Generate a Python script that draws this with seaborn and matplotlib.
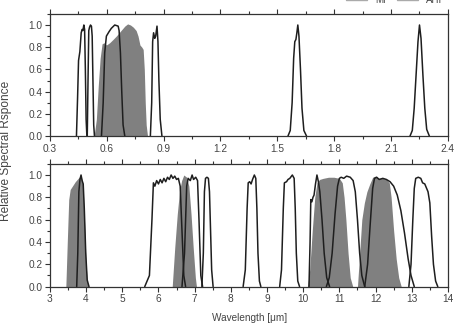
import numpy as np
import seaborn as sns
import matplotlib.pyplot as plt
from matplotlib.lines import Line2D
from matplotlib.ticker import MultipleLocator

# --- top panel (VIS/NIR), black line bands ---
t1_x = [0.440, 0.446, 0.451, 0.458, 0.465, 0.470, 0.474, 0.479, 0.483, 0.487, 0.491, 0.495]
t1_y = [0.0, 0.35, 0.68, 0.76, 0.93, 0.96, 0.95, 1.0, 0.96, 0.6, 0.15, 0.0]
t2_x = [0.497, 0.501, 0.505, 0.509, 0.514, 0.519, 0.523, 0.527, 0.531, 0.535]
t2_y = [0.0, 0.5, 0.95, 0.98, 1.0, 0.99, 0.9, 0.5, 0.1, 0.0]
t3_x = [0.572, 0.581, 0.589, 0.598, 0.612, 0.624, 0.642, 0.660, 0.665, 0.672, 0.679, 0.686, 0.695]
t3_y = [0.0, 0.3, 0.75, 0.9, 0.94, 0.97, 1.0, 0.99, 0.95, 0.75, 0.4, 0.1, 0.0]
t4_x = [0.830, 0.837, 0.842, 0.847, 0.853, 0.858, 0.865, 0.870, 0.875, 0.882, 0.891]
t4_y = [0.0, 0.3, 0.85, 0.93, 0.88, 0.9, 0.99, 0.85, 0.5, 0.15, 0.0]
t5_x = [1.556, 1.568, 1.578, 1.586, 1.592, 1.598, 1.603, 1.608, 1.614, 1.622, 1.630, 1.640, 1.654]
t5_y = [0.0, 0.05, 0.3, 0.7, 0.85, 0.87, 0.93, 1.0, 0.9, 0.6, 0.25, 0.05, 0.0]
t6_x = [2.200, 2.212, 2.222, 2.232, 2.242, 2.250, 2.258, 2.268, 2.278, 2.288, 2.302]
t6_y = [0.0, 0.05, 0.25, 0.55, 0.85, 1.0, 0.88, 0.55, 0.25, 0.06, 0.0]

# --- top panel, gray filled band ---
tg_x = [0.533, 0.545, 0.555, 0.565, 0.575, 0.585, 0.598, 0.615, 0.633, 0.650, 0.665, 0.680,
        0.695, 0.710, 0.725, 0.740, 0.755, 0.765, 0.775, 0.785, 0.792, 0.798, 0.803, 0.808, 0.815]
tg_y = [0.0, 0.15, 0.45, 0.7, 0.83, 0.84, 0.82, 0.84, 0.87, 0.9, 0.93, 0.96,
        0.99, 1.01, 1.0, 0.98, 0.95, 0.9, 0.82, 0.8, 0.78, 0.6, 0.3, 0.1, 0.0]

# --- bottom panel (IR), black line bands ---
b1_x = [3.74, 3.77, 3.80, 3.83, 3.86, 3.89, 3.92, 3.95, 3.99, 4.03, 4.08]
b1_y = [0.0, 0.3, 0.85, 0.96, 1.0, 0.95, 0.92, 0.7, 0.3, 0.06, 0.0]
b2_x = [5.62, 5.75, 5.82, 5.86, 5.90, 5.95, 6.00, 6.05, 6.10, 6.15, 6.20, 6.25, 6.30,
        6.35, 6.40, 6.45, 6.50, 6.55, 6.60, 6.65, 6.70, 6.75]
b2_y = [0.0, 0.1, 0.6, 0.93, 0.9, 0.95, 0.92, 0.96, 0.93, 0.97, 0.94, 0.98, 0.96,
        1.0, 0.97, 0.99, 0.96, 0.97, 0.9, 0.5, 0.1, 0.0]
b3_x = [6.65, 6.72, 6.78, 6.82, 6.88, 6.93, 6.97, 7.03, 7.08, 7.12, 7.17, 7.22]
b3_y = [0.0, 0.3, 0.9, 0.97, 0.95, 1.0, 0.96, 0.98, 0.95, 0.6, 0.1, 0.0]
b4_x = [7.20, 7.24, 7.27, 7.30, 7.34, 7.38, 7.41, 7.44, 7.47, 7.51]
b4_y = [0.0, 0.3, 0.85, 0.97, 0.98, 0.97, 0.85, 0.5, 0.15, 0.0]
b5_x = [8.34, 8.40, 8.45, 8.48, 8.52, 8.56, 8.60, 8.65, 8.69, 8.72, 8.75, 8.79, 8.83]
b5_y = [0.0, 0.15, 0.7, 0.93, 0.94, 0.92, 0.96, 1.0, 0.97, 0.7, 0.3, 0.05, 0.0]
b6_x = [9.35, 9.40, 9.45, 9.48, 9.54, 9.58, 9.63, 9.70, 9.75, 9.78, 9.81, 9.85, 9.90]
b6_y = [0.0, 0.15, 0.7, 0.93, 0.94, 0.96, 0.97, 1.0, 0.97, 0.7, 0.3, 0.05, 0.0]
b7_x = [10.16, 10.19, 10.21, 10.24, 10.27, 10.30, 10.34, 10.38, 10.42, 10.46, 10.52, 10.58, 10.65, 10.73]
b7_y = [0.0, 0.4, 0.78, 0.76, 0.8, 0.82, 0.92, 1.0, 0.94, 0.85, 0.6, 0.3, 0.08, 0.0]
b8_x = [10.64, 10.72, 10.80, 10.88, 10.95, 11.00, 11.05, 11.12, 11.20, 11.30, 11.38, 11.44,
        11.50, 11.56, 11.62, 11.70]
b8_y = [0.0, 0.08, 0.3, 0.65, 0.9, 0.97, 0.98, 0.97, 0.99, 0.98, 0.95, 0.85,
        0.6, 0.3, 0.1, 0.0]
b9_x = [11.70, 11.78, 11.85, 11.92, 11.97, 12.03, 12.10, 12.20, 12.30, 12.40, 12.50, 12.60,
        12.70, 12.80, 12.90, 12.98, 13.07]
b9_y = [0.0, 0.2, 0.55, 0.88, 0.97, 0.98, 0.96, 0.97, 0.96, 0.94, 0.9, 0.82,
        0.68, 0.48, 0.25, 0.1, 0.0]
b10_x = [12.92, 12.98, 13.03, 13.07, 13.11, 13.18, 13.25, 13.30, 13.36, 13.45, 13.50, 13.55,
         13.60, 13.66, 13.72]
b10_y = [0.0, 0.2, 0.6, 0.88, 0.97, 0.98, 0.97, 0.93, 0.92, 0.85, 0.75, 0.45,
         0.2, 0.05, 0.0]

# --- bottom panel, gray filled bands ---
g1_x = [3.44, 3.48, 3.52, 3.56, 3.62, 3.70, 3.78, 3.84, 3.88, 3.92, 3.96, 4.00, 4.04, 4.08]
g1_y = [0.0, 0.4, 0.78, 0.87, 0.9, 0.94, 0.97, 0.99, 0.97, 0.88, 0.55, 0.2, 0.03, 0.0]
g2_x = [6.38, 6.45, 6.52, 6.58, 6.64, 6.70, 6.78, 6.84, 6.90, 6.96, 7.02, 7.05]
g2_y = [0.0, 0.35, 0.65, 0.85, 0.95, 1.0, 0.98, 0.9, 0.65, 0.35, 0.08, 0.0]
g3_x = [10.12, 10.18, 10.25, 10.32, 10.38, 10.45, 10.55, 10.70, 10.85, 11.00, 11.08, 11.13,
        11.18, 11.24, 11.30, 11.37]
g3_y = [0.0, 0.15, 0.5, 0.8, 0.93, 0.96, 0.97, 0.98, 0.98, 0.97, 0.93, 0.8,
        0.6, 0.3, 0.08, 0.0]
g4_x = [11.50, 11.56, 11.62, 11.69, 11.76, 11.84, 11.92, 12.00, 12.10, 12.20, 12.30, 12.38,
        12.43, 12.50, 12.57, 12.64, 12.71]
g4_y = [0.0, 0.3, 0.6, 0.75, 0.85, 0.92, 0.98, 0.99, 0.97, 0.97, 0.96, 0.93,
        0.8, 0.5, 0.25, 0.08, 0.0]

legend_labels = ["MI", "AHI"]

top_lines = [(t1_x, t1_y), (t2_x, t2_y), (t3_x, t3_y), (t4_x, t4_y), (t5_x, t5_y), (t6_x, t6_y)]
top_fills = [(tg_x, tg_y)]
bot_lines = [(b1_x, b1_y), (b2_x, b2_y), (b3_x, b3_y), (b4_x, b4_y), (b5_x, b5_y),
             (b6_x, b6_y), (b7_x, b7_y), (b8_x, b8_y), (b9_x, b9_y), (b10_x, b10_y)]
bot_fills = [(g1_x, g1_y), (g2_x, g2_y), (g3_x, g3_y), (g4_x, g4_y)]

sns.set_style("ticks")
plt.rcParams['font.family'] = ['Liberation Sans', 'DejaVu Sans']

LINE_C = "#1e1e1e"
FILL_C = "#808080"
TXT_C = "#444444"

fig = plt.figure(figsize=(4.58, 3.31), dpi=100)
ax_top = fig.add_axes([0.109, 0.589, 0.869, 0.369])
ax_bot = fig.add_axes([0.109, 0.134, 0.869, 0.371])


def draw_panel(ax, fills, lines, xlim, major, minor):
    for fx, fy in fills:
        ax.fill_between(fx, fy, 0, color=FILL_C, lw=0, zorder=1)
    for lx, ly in lines:
        sns.lineplot(x=lx, y=ly, ax=ax, sort=False, estimator=None,
                     color=LINE_C, lw=1.1, zorder=2)
    ax.set_xlim(*xlim)
    ax.set_ylim(0, 1.1)
    ax.xaxis.set_major_locator(MultipleLocator(major))
    ax.xaxis.set_minor_locator(MultipleLocator(minor))
    ax.yaxis.set_major_locator(MultipleLocator(0.2))
    ax.yaxis.set_minor_locator(MultipleLocator(0.1))
    ax.tick_params(axis='both', which='both', direction='out', colors="#333333",
                   labelcolor=TXT_C, labelsize=7.3, width=0.8)
    ax.tick_params(axis='x', which='both', top=True)
    ax.tick_params(which='major', length=3.5)
    ax.tick_params(which='minor', length=2)
    ax.tick_params(axis='x', pad=2)
    ax.tick_params(axis='y', pad=2)
    ax.yaxis.set_major_formatter(plt.FuncFormatter(lambda v, p: f"{v:.1f}"))
    for s in ax.spines.values():
        s.set_visible(True)
        s.set_color("#333333")
        s.set_linewidth(0.9)
    ax.set_xlabel("")
    ax.set_ylabel("")


draw_panel(ax_top, top_fills, top_lines, (0.3, 2.4), 0.3, 0.15)
draw_panel(ax_bot, bot_fills, bot_lines, (3, 14), 1, 0.5)
ax_top.xaxis.set_major_formatter(plt.FuncFormatter(lambda v, p: f"{v:.1f}"))

fig.text(0.013, 0.544, "Relative Spectral Rsponce", rotation=90, ha='center', va='center',
         fontsize=8.6, color=TXT_C)
fig.text(0.545, 0.04, "Wavelength [\u03bcm]", ha='center', va='center', fontsize=7.2, color=TXT_C)

handles = [Line2D([0], [0], color="#aaaaaa", lw=1), Line2D([0], [0], color="#aaaaaa", lw=1)]
fig.legend(handles, legend_labels, loc='center right', bbox_to_anchor=(0.985, 1.0),
           ncol=2, frameon=False, fontsize=7, handlelength=2.2, columnspacing=1.2,
           labelcolor=TXT_C)

fig.savefig("out.png", dpi=100)
